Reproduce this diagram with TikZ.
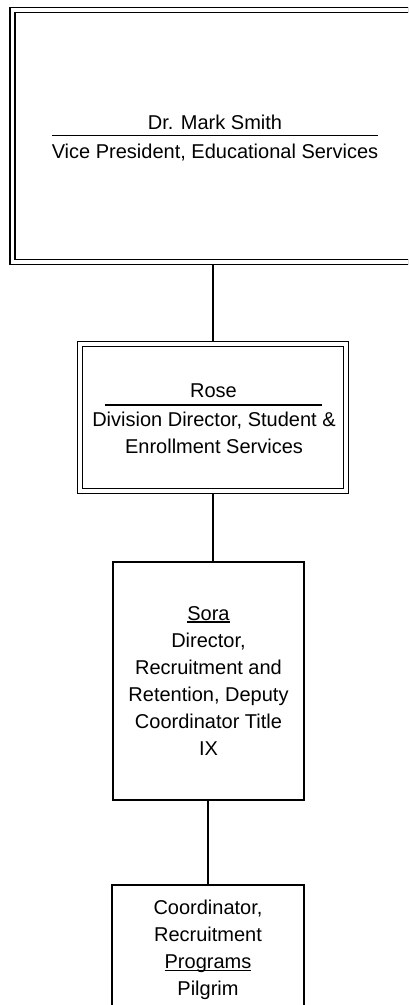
\documentclass[tikz,border=0pt]{standalone}
\usepackage{fontspec}
\setmainfont{Liberation Sans}
\usetikzlibrary{backgrounds}
\newcommand\myul[1]{\setbox0\hbox{#1}\rlap{\rule[-2.2pt]{\wd0}{1.2pt}}\box0}
\tikzset{
  dbox/.style={draw=black, line width=1.3pt, double=white, double distance=3.7pt, inner sep=0pt},
  sbox/.style={draw=black, line width=1.6pt, inner sep=0pt},
  txt/.style={font=\fontsize{20}{27}\selectfont, inner sep=0pt, align=center},
  conn/.style={draw=black, line width=1.5pt},
  sepline/.style={draw=black, line width=1.4pt}
}
\begin{document}
\begin{tikzpicture}[x=1pt,y=-1pt]
\useasboundingbox (0,0) rectangle (408,1005);
\clip (0,0) rectangle (408,1005);
% Top box
\node[dbox, minimum width=405pt, minimum height=252pt] (vp) at (215,135.75) {};
\node[txt, anchor=base] (vpname) at (215,129.3) {Dr. Mark Smith};
\node[txt, anchor=base] (vptitle) at (215,158.3) {Vice President, Educational Services};
\draw[sepline] ([xshift=-163pt]vp.center) -- ([xshift=163pt]vp.center);
% Rose box
\node[dbox, minimum width=266.6pt, minimum height=147.3pt] (rose) at (213,417.35) {};
\node[txt, anchor=base] (rosename) at (213.5,397.3) {Rose};
\node[txt] (rosetitle) at (214,432.4) {Division Director, Student \&\\Enrollment Services};
\coordinate (rl) at (105,405);
\coordinate (rr) at (322,405);
\draw[sepline] (rl) -- (rr);
% Sora box
\node[sbox, txt, minimum width=191pt, minimum height=238pt] (sora) at (208.5,681)
  {\myul{Sora}\\Director,\\Recruitment and\\Retention, Deputy\\Coordinator Title\\IX};
% Pilgrim box
\node[sbox, txt, minimum width=192pt, minimum height=131pt, anchor=north] (pilgrim) at (208,884)
  {Coordinator,\\Recruitment\\\myul{Programs}\\Pilgrim};
% Connectors
\begin{scope}[on background layer]
\draw[conn] (rose.north) -- (rose.north |- vp.south);
\draw[conn] (rose.south) -- (rose.south |- sora.north);
\draw[conn] (pilgrim.north) -- (pilgrim.north |- sora.south);
\end{scope}
\end{tikzpicture}
\end{document}
